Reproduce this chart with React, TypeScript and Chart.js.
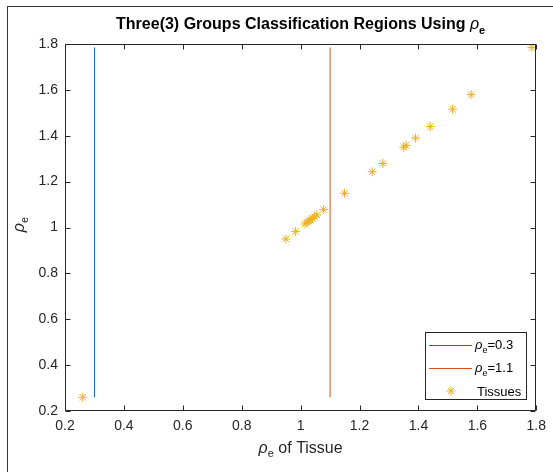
import React, { useEffect, useRef } from 'react';
import { Chart, registerables } from 'chart.js';

Chart.register(...registerables);

// ---- data ----
const tissueX = [0.26, 0.95, 0.983, 1.015, 1.022, 1.028, 1.034, 1.04, 1.047, 1.055, 1.078, 1.149, 1.243, 1.279, 1.35, 1.358, 1.39, 1.44, 1.516, 1.579, 1.785];
const tissueY = [0.26, 0.95, 0.983, 1.015, 1.022, 1.028, 1.034, 1.04, 1.047, 1.055, 1.078, 1.149, 1.243, 1.279, 1.35, 1.358, 1.39, 1.44, 1.516, 1.579, 1.785];
const line1X = [0.3, 0.3];
const line1Y = [0.26, 1.785];
const line2X = [1.1, 1.1];
const line2Y = [0.26, 1.785];
const xTicks = [0.2, 0.4, 0.6, 0.8, 1.0, 1.2, 1.4, 1.6, 1.8];
const yTicks = [0.2, 0.4, 0.6, 0.8, 1.0, 1.2, 1.4, 1.6, 1.8];
const titleMain = 'Three(3) Groups Classification Regions Using ';
const legendTexts = ['=0.3', '=1.1', 'Tissues'];

const FONT = '"Liberation Sans", Arial, Helvetica, sans-serif';
const C_BLUE = '#0072BD';
const C_RED = '#D95319';
const C_YEL = '#EDB120';
const C_AX = '#262626';

type Seg = { t: string; size: number; weight?: string; style?: string; dy?: number };

function setFont(ctx: CanvasRenderingContext2D, s: Seg) {
  ctx.font = `${s.style || 'normal'} ${s.weight || 'normal'} ${s.size}px ${FONT}`;
}

function richWidth(ctx: CanvasRenderingContext2D, segs: Seg[]) {
  let w = 0;
  for (const s of segs) {
    setFont(ctx, s);
    w += ctx.measureText(s.t).width;
  }
  return w;
}

function drawRich(ctx: CanvasRenderingContext2D, segs: Seg[], x: number, y: number, align: 'left' | 'center') {
  const total = richWidth(ctx, segs);
  let cx = align === 'center' ? x - total / 2 : x;
  ctx.textAlign = 'left';
  ctx.textBaseline = 'alphabetic';
  for (const s of segs) {
    setFont(ctx, s);
    ctx.fillText(s.t, cx, y + (s.dy || 0));
    cx += ctx.measureText(s.t).width;
  }
}

const decor = {
  id: 'decor',
  afterDraw(chart: any) {
    const ctx: CanvasRenderingContext2D = chart.ctx;
    const { left, top, right, bottom } = chart.chartArea;
    const xs = chart.scales.x;
    const ys = chart.scales.y;
    ctx.save();

    // outer frame
    ctx.strokeStyle = '#333333';
    ctx.lineWidth = 1;
    ctx.strokeRect(7.5, 6.5, 700, 700);

    // axes box
    const L = Math.round(left) + 0.5;
    const R = Math.round(right) - 0.5;
    const T = Math.round(top) + 0.5;
    const B = Math.round(bottom) - 0.5;
    ctx.strokeStyle = C_AX;
    ctx.beginPath();
    ctx.rect(L, T, R - L, B - T);
    ctx.stroke();

    // inward ticks
    const tl = 5;
    ctx.beginPath();
    for (const v of xTicks) {
      const px = Math.round(xs.getPixelForValue(v)) + 0.5;
      ctx.moveTo(px, B);
      ctx.lineTo(px, B - tl);
      ctx.moveTo(px, T);
      ctx.lineTo(px, T + tl);
    }
    for (const v of yTicks) {
      const py = Math.round(ys.getPixelForValue(v)) + 0.5;
      ctx.moveTo(L, py);
      ctx.lineTo(L + tl, py);
      ctx.moveTo(R, py);
      ctx.lineTo(R - tl, py);
    }
    ctx.stroke();

    const cxm = (left + right) / 2;
    ctx.fillStyle = '#000000';
    // title
    drawRich(
      ctx,
      [
        { t: titleMain, size: 16, weight: 'bold' },
        { t: 'ρ', size: 16, style: 'italic' },
        { t: 'e', size: 11, weight: 'bold', dy: 5 },
      ],
      cxm,
      29,
      'center'
    );

    // x label
    ctx.fillStyle = C_AX;
    drawRich(
      ctx,
      [
        { t: 'ρ', size: 16, style: 'italic' },
        { t: 'e', size: 11, dy: 4 },
        { t: ' of Tissue', size: 16 },
      ],
      cxm,
      453,
      'center'
    );

    // y label
    ctx.save();
    ctx.translate(24, (top + bottom) / 2 - 3);
    ctx.rotate(-Math.PI / 2);
    drawRich(
      ctx,
      [
        { t: 'ρ', size: 16, style: 'italic' },
        { t: 'e', size: 11, dy: 4 },
      ],
      0,
      0,
      'center'
    );
    ctx.restore();

    // legend
    const bx = 425.5, by = 332.5, bw = 101, bh = 67;
    ctx.fillStyle = '#ffffff';
    ctx.fillRect(bx, by, bw, bh);
    ctx.strokeStyle = C_AX;
    ctx.strokeRect(bx, by, bw, bh);
    const rows = [345.5, 368.5, 391];
    ctx.lineWidth = 1;
    ctx.strokeStyle = C_BLUE;
    ctx.beginPath();
    ctx.moveTo(429, rows[0]);
    ctx.lineTo(472, rows[0]);
    ctx.stroke();
    ctx.strokeStyle = C_RED;
    ctx.beginPath();
    ctx.moveTo(429, rows[1]);
    ctx.lineTo(472, rows[1]);
    ctx.stroke();
    // star marker
    ctx.strokeStyle = C_YEL;
    const sx = 451, sy = rows[2], r = 4.5;
    ctx.beginPath();
    ctx.moveTo(sx - r, sy); ctx.lineTo(sx + r, sy);
    ctx.moveTo(sx, sy - r); ctx.lineTo(sx, sy + r);
    const d = r * 0.7071;
    ctx.moveTo(sx - d, sy - d); ctx.lineTo(sx + d, sy + d);
    ctx.moveTo(sx - d, sy + d); ctx.lineTo(sx + d, sy - d);
    ctx.stroke();

    ctx.fillStyle = '#000000';
    drawRich(ctx, [{ t: 'ρ', size: 13, style: 'italic' }, { t: 'e', size: 9, dy: 4 }, { t: legendTexts[0], size: 13 }], 475, rows[0] + 3, 'left');
    drawRich(ctx, [{ t: 'ρ', size: 13, style: 'italic' }, { t: 'e', size: 9, dy: 4 }, { t: legendTexts[1], size: 13 }], 475, rows[1] + 3, 'left');
    drawRich(ctx, [{ t: legendTexts[2], size: 13 }], 477, rows[2] + 5, 'left');

    ctx.restore();
  },
};

export default function App() {
  const ref = useRef<HTMLCanvasElement | null>(null);

  useEffect(() => {
    document.body.style.margin = '0';
    const canvas = ref.current;
    if (!canvas) return;
    const tickFmt = (v: any) => String(Number(Number(v).toFixed(1)));
    const chart = new Chart(canvas, {
      type: 'scatter',
      data: {
        datasets: [
          {
            label: 'rho_e=0.3',
            data: line1X.map((x, i) => ({ x, y: line1Y[i] })),
            showLine: true,
            borderColor: C_BLUE,
            backgroundColor: C_BLUE,
            borderWidth: 1,
            pointRadius: 0,
          },
          {
            label: 'rho_e=1.1',
            data: line2X.map((x, i) => ({ x, y: line2Y[i] })),
            showLine: true,
            borderColor: C_RED,
            backgroundColor: C_RED,
            borderWidth: 1,
            pointRadius: 0,
          },
          {
            label: 'Tissues',
            data: tissueX.map((x, i) => ({ x, y: tissueY[i] })),
            showLine: false,
            pointStyle: 'star',
            pointRadius: 4.5,
            borderColor: C_YEL,
            backgroundColor: C_YEL,
            borderWidth: 1,
          },
        ],
      },
      options: {
        animation: false,
        responsive: false,
        devicePixelRatio: 1,
        layout: { padding: { left: 0, top: 44, right: 16, bottom: 0 } },
        plugins: {
          legend: { display: false },
          title: { display: false },
          tooltip: { enabled: false },
        },
        scales: {
          x: {
            type: 'linear',
            min: 0.2,
            max: 1.8,
            grid: { display: false, drawTicks: false },
            border: { display: false },
            afterBuildTicks: (s: any) => {
              s.ticks = xTicks.map((value) => ({ value }));
            },
            afterFit: (s: any) => {
              s.height = 61;
            },
            ticks: {
              callback: tickFmt,
              color: C_AX,
              padding: 7,
              maxRotation: 0,
              autoSkip: false,
              font: { family: FONT, size: 14 },
            },
          },
          y: {
            type: 'linear',
            min: 0.2,
            max: 1.8,
            grid: { display: false, drawTicks: false },
            border: { display: false },
            afterBuildTicks: (s: any) => {
              s.ticks = yTicks.map((value) => ({ value }));
            },
            afterFit: (s: any) => {
              s.width = 65;
            },
            ticks: {
              callback: tickFmt,
              color: C_AX,
              padding: 7,
              autoSkip: false,
              font: { family: FONT, size: 14 },
            },
          },
        },
      },
      plugins: [decor],
    });
    return () => chart.destroy();
  }, []);

  return (
    <div style={{ position: 'relative', width: 553, height: 472, background: '#ffffff' }}>
      <canvas ref={ref} width={553} height={472} style={{ display: 'block', width: 553, height: 472 }} />
    </div>
  );
}
